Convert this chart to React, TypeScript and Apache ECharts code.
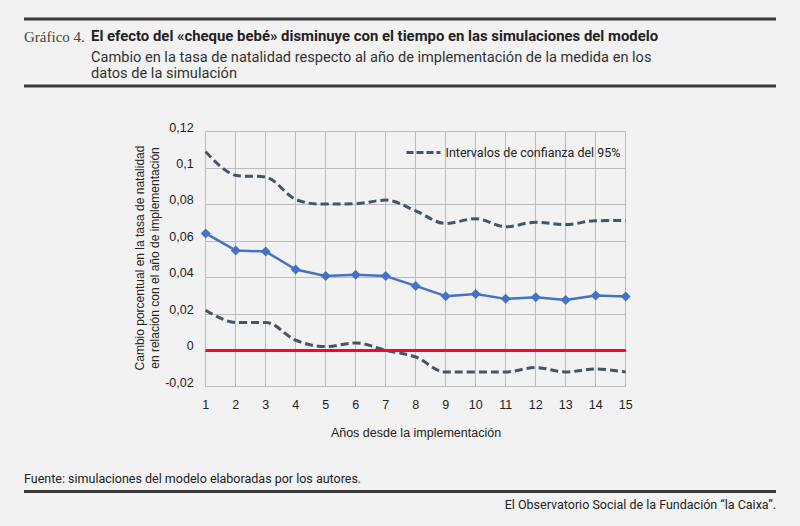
import React, { useEffect, useRef } from "react";
import * as echarts from "echarts";

const years = ["1", "2", "3", "4", "5", "6", "7", "8", "9", "10", "11", "12", "13", "14", "15"];
const central = [0.0641, 0.0548, 0.0542, 0.0443, 0.0407, 0.0414, 0.0407, 0.0353, 0.0297, 0.0309, 0.0282, 0.0291, 0.0276, 0.03, 0.0295];
const upper = [0.109, 0.096, 0.095, 0.0828, 0.0802, 0.0804, 0.0824, 0.0765, 0.0696, 0.0722, 0.0678, 0.0703, 0.069, 0.0711, 0.0712];
const lower = [0.022, 0.0152, 0.0152, 0.0055, 0.002, 0.004, 0.0, -0.0037, -0.0119, -0.0119, -0.0119, -0.0095, -0.0119, -0.0103, -0.0119];

const yTicks = { min: -0.02, max: 0.12, interval: 0.02 };

const legendLabel = "Intervalos de confianza del 95%";
const figureLabel = "Gráfico 4.";
const titleText = "El efecto del «cheque bebé» disminuye con el tiempo en las simulaciones del modelo";
const subtitleLines = [
  "Cambio en la tasa de natalidad respecto al año de implementación de la medida en los",
  "datos de la simulación",
];
const yAxisTitle = "Cambio porcentual en la tasa de natalidad\nen relación con el año de implementación";
const xAxisTitle = "Años desde la implementación";
const sourceText = "Fuente: simulaciones del modelo elaboradas por los autores.";
const creditText = "El Observatorio Social de la Fundación “la Caixa”.";

const condensed = "'Liberation Sans Narrow', 'Roboto', sans-serif";
const chartFont = "'Liberation Sans', Arial, sans-serif";

export default function App() {
  const ref = useRef<HTMLDivElement>(null);

  useEffect(() => {
    if (!ref.current) return;
    const chart = echarts.init(ref.current, undefined, { renderer: "svg" });
    const gridTop = 131.6;
    const gridBottomY = 386.7;
    const gridLeft = 205.7;
    const gridRight = 625.7;
    const dashed = { color: "#44546a", width: 3, type: [8, 4] as number[] };

    chart.setOption({
      animation: false,
      backgroundColor: "#f2f2f2",
      grid: {
        left: gridLeft,
        right: 800 - gridRight,
        top: gridTop,
        bottom: 526 - gridBottomY,
        containLabel: false,
      },
      legend: {
        data: [legendLabel],
        left: 405,
        top: 146,
        padding: 0,
        itemWidth: 34,
        itemHeight: 14,
        itemGap: 4,
        itemStyle: { opacity: 0 },
        lineStyle: { color: "#44546a", width: 3, type: [7, 3] },
        textStyle: { fontFamily: "Roboto, sans-serif", fontSize: 12.5, color: "#222" },
        selectedMode: false,
      },
      xAxis: {
        type: "category",
        data: years,
        boundaryGap: false,
        axisLine: { show: true, lineStyle: { color: "#8c8c8c", width: 2 } },
        axisTick: { show: false },
        axisLabel: { color: "#222", fontFamily: chartFont, fontSize: 12.5, margin: 12, interval: 0 },
        splitLine: { show: true, interval: 0, lineStyle: { color: "#bcbcbc", width: 1 } },
      },
      yAxis: {
        type: "value",
        min: yTicks.min,
        max: yTicks.max,
        interval: yTicks.interval,
        axisLine: { show: false },
        axisTick: { show: false },
        axisLabel: {
          color: "#222",
          fontFamily: chartFont,
          fontSize: 12.5,
          margin: 12,
          verticalAlign: "bottom",
          lineHeight: 8,
          formatter: (v: number) => String(Math.round(v * 100) / 100).replace(".", ","),
        },
        splitLine: { show: true, lineStyle: { color: "#bcbcbc", width: 1 } },
      },
      series: [
        {
          name: legendLabel,
          type: "line",
          data: upper,
          smooth: 0.35,
          symbol: "none",
          lineStyle: dashed,
          itemStyle: { color: "#44546a" },
          z: 2,
        },
        {
          name: legendLabel,
          type: "line",
          data: lower,
          smooth: 0.35,
          symbol: "none",
          lineStyle: dashed,
          itemStyle: { color: "#44546a" },
          z: 2,
        },
        {
          name: "Estimación",
          type: "line",
          data: central,
          symbol: "diamond",
          symbolSize: 10,
          lineStyle: { color: "#4472c4", width: 2.5 },
          itemStyle: { color: "#4472c4" },
          z: 4,
          markLine: {
            silent: true,
            symbol: "none",
            label: { show: false },
            lineStyle: { color: "#ff0033", width: 3, type: "solid" },
            data: [{ yAxis: 0 }],
            z: 3,
          },
        },
      ],
      graphic: [
        { type: "rect", shape: { x: 24, y: 17.5, width: 752, height: 3 }, style: { fill: "#3a3a3a" } },
        {
          type: "text",
          x: 24,
          y: 37,
          style: { text: figureLabel, font: "15px 'Liberation Serif', serif", fill: "#444", textAlign: "left", textVerticalAlign: "middle" },
        },
        {
          type: "text",
          x: 91,
          y: 36,
          style: { text: titleText, font: `bold 14.9px ${condensed}`, fill: "#222", textAlign: "left", textVerticalAlign: "middle" },
        },
        {
          type: "text",
          x: 91,
          y: 64.5,
          style: {
            text: subtitleLines.join("\n"),
            font: `14.6px ${condensed}`,
            lineHeight: 16,
            fill: "#333",
            textAlign: "left",
            textVerticalAlign: "middle",
          },
        },
        { type: "rect", shape: { x: 24, y: 84.5, width: 752, height: 3 }, style: { fill: "#3a3a3a" } },
        {
          type: "text",
          x: 147.5,
          y: 258,
          rotation: Math.PI / 2,
          style: { text: yAxisTitle, font: `12px ${chartFont}`, fill: "#222", textAlign: "center", textVerticalAlign: "middle", lineHeight: 15 },
        },
        {
          type: "text",
          x: 416,
          y: 433,
          style: { text: xAxisTitle, font: `12.5px ${chartFont}`, fill: "#222", textAlign: "center", textVerticalAlign: "middle" },
        },
        {
          type: "text",
          x: 24,
          y: 478,
          style: { text: sourceText, font: `12.5px ${condensed}`, fill: "#222", textAlign: "left", textVerticalAlign: "middle" },
        },
        { type: "rect", shape: { x: 24, y: 490, width: 752, height: 3 }, style: { fill: "#3a3a3a" } },
        {
          type: "text",
          x: 776,
          y: 504,
          style: { text: creditText, font: `12.5px ${condensed}`, fill: "#222", textAlign: "right", textVerticalAlign: "middle" },
        },
      ],
    });

    return () => chart.dispose();
  }, []);

  return <div ref={ref} style={{ position: "fixed", left: 0, top: 0, width: 800, height: 526 }} />;
}
